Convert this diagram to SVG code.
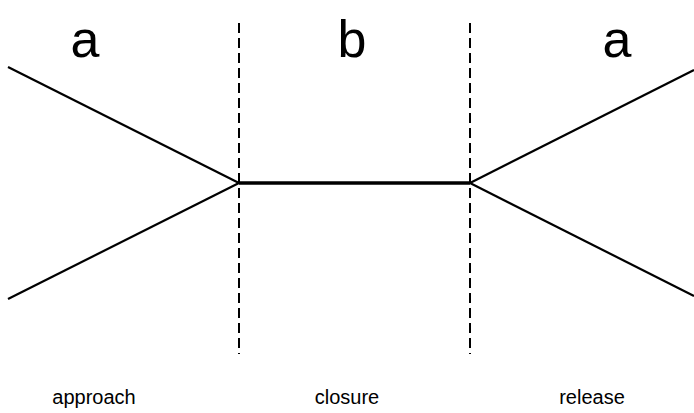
<svg xmlns="http://www.w3.org/2000/svg" width="694" height="413" viewBox="0 0 694 413">
<style>
.big{font-family:"Liberation Sans",Arial,sans-serif;font-size:52px;fill:#000;text-anchor:middle}
.lab{font-family:"Liberation Sans",Arial,sans-serif;font-size:20px;fill:#000;text-anchor:middle}
.div{stroke:#000;stroke-width:2;stroke-dasharray:10,5;fill:none}
.ln{stroke:#000;stroke-width:2.2;fill:none}
.thick{stroke:#000;stroke-width:3.5;fill:none}
</style>
<rect width="694" height="413" fill="#fff"/>
<g id="dividers">
<line class="div" x1="239" y1="23" x2="239" y2="354"/>
<line class="div" x1="470" y1="23" x2="470" y2="354"/>
</g>
<g id="connectors">
<line class="ln" x1="8" y1="67" x2="239" y2="183"/>
<line class="ln" x1="8" y1="299" x2="239" y2="183"/>
<line class="thick" x1="239" y1="183" x2="470" y2="183"/>
<line class="ln" x1="470" y1="183" x2="694" y2="70"/>
<line class="ln" x1="470" y1="183" x2="694" y2="296"/>
</g>
<g id="label-a-left"><text class="big" x="85" y="57">a</text></g>
<g id="label-b"><text class="big" x="352" y="57">b</text></g>
<g id="label-a-right"><text class="big" x="617" y="57">a</text></g>
<g id="label-approach"><text class="lab" x="94" y="404">approach</text></g>
<g id="label-closure"><text class="lab" x="347" y="404">closure</text></g>
<g id="label-release"><text class="lab" x="592" y="404">release</text></g>
</svg>
